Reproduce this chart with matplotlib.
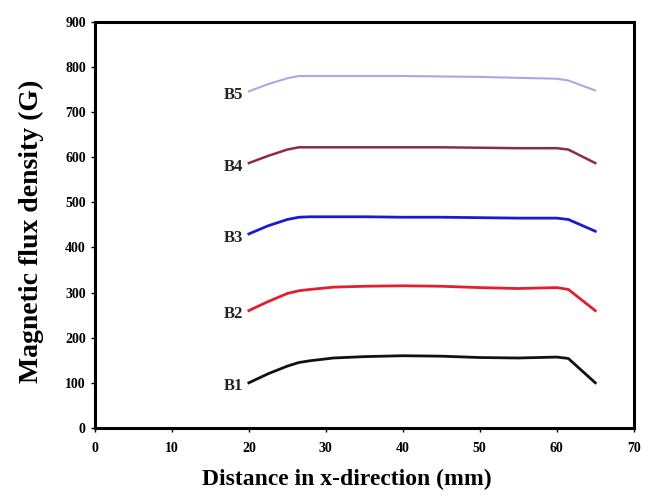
import matplotlib
matplotlib.use("Agg")
import matplotlib.pyplot as plt

# distance in x-direction (mm)
x = [20, 22.5, 25, 26.5, 28, 31, 35, 40, 45, 50, 55, 60, 61.5, 65]

b1 = [100, 120, 137, 145, 149, 155, 158, 160, 159, 156, 155, 157, 154, 100]
b2 = [260, 280, 298, 304, 307, 312, 314, 315, 314, 311, 309, 311, 307, 260]
b3 = [430, 448, 462, 467, 468, 468, 468, 467, 467, 466, 465, 465, 462, 436]
b4 = [587, 603, 617, 622, 622, 622, 622, 622, 622, 621, 620, 620, 617, 587]
b5 = [746, 762, 775, 780, 780, 780, 780, 780, 779, 778, 776, 774, 770, 748]

names = ["B1", "B2", "B3", "B4", "B5"]
series = [b1, b2, b3, b4, b5]
colors = ["#111111", "#e02030", "#1a1ad0", "#8e2c3e", "#b4a2e6"]
widths = [2.0, 2.0, 2.0, 1.8, 1.5]

plt.rcParams["font.family"] = ["Liberation Serif", "DejaVu Serif"]
plt.rcParams["font.weight"] = "bold"

fig = plt.figure(figsize=(6.5, 4.97), dpi=100)
ax = fig.add_axes([0.146, 0.139, 0.829, 0.817])

for name, y, c, w in zip(names, series, colors, widths):
    ax.plot(x, y, color=c, linewidth=w)
    ax.text(19.3, y[0] - 8, name, ha="right", va="center",
            fontsize=12, fontweight="bold", color="#222222")

ax.set_xlim(0, 70)
ax.set_ylim(0, 900)
ax.set_xticks(range(0, 71, 10))
ax.set_yticks(range(0, 901, 100))
ax.tick_params(labelsize=10, length=3, width=1, direction="out")
ax.tick_params(axis="x", pad=7)
for lab in ax.get_xticklabels() + ax.get_yticklabels():
    lab.set_fontweight("bold")
for s in ax.spines.values():
    s.set_linewidth(2.2)

ax.set_xlabel("Distance in x-direction (mm)", fontsize=17, fontweight="bold")
ax.set_ylabel("Magnetic flux density (G)", fontsize=20, fontweight="bold")
ax.xaxis.set_label_coords(0.468, -0.10)
ax.yaxis.set_label_coords(-0.095, 0.485)

fig.savefig("out.png", dpi=100)
